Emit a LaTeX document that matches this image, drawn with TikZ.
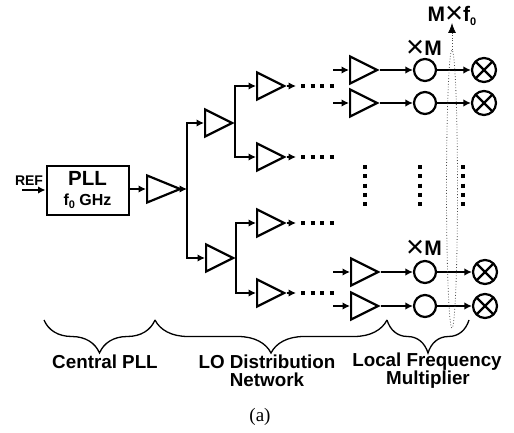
\documentclass[tikz,border=0pt]{standalone}
\usepackage{fontspec}
\setmainfont{Liberation Sans}
\newfontfamily\captionserif{Liberation Serif}
\usetikzlibrary{arrows.meta,calc,shapes.geometric,decorations.pathreplacing}
\newcommand{\subzero}{\raisebox{-0.22em}{\fontsize{11}{11}\selectfont 0}}
\newcommand{\bigtimes}{\raisebox{-0.12em}{\mdseries\fontsize{31}{31}\selectfont\texttimes}}

\begin{document}
\begin{tikzpicture}[
    x = 1pt,
    y = -1pt,
    amp/.style={
        isosceles triangle, % shape
        isosceles triangle stretches,
        minimum width = 27pt, %size
        minimum height = 27pt,
        inner sep = 0pt,
        line width = 2.2pt, %border
        line join = miter,
        draw = black,
        anchor = west
      },
    ampbig/.style={amp, minimum height = 33pt},
    mult/.style={circle, draw = black, line width = 2.2pt, minimum size = 22pt, inner sep = 0pt},
    mixer/.style={
        mult,
        minimum size = 24pt,
        path picture={
            \draw [line width = 2.2pt] (path picture bounding box.north west) -- (path picture bounding box.south east);
            \draw [line width = 2.2pt] (path picture bounding box.south west) -- (path picture bounding box.north east);
          }
      },
    wire/.style={line width = 1.5pt, -{Latex[length = 7.5pt, width = 7.5pt]}},
    dothline/.style={line width = 4pt, dash pattern = on 4pt off 5.6pt},
    curly/.style={line width = 1.3pt, decorate, decoration={brace, mirror, amplitude = 33pt}},
    label/.style={font = \bfseries\fontsize{18.8}{18.8}\selectfont, inner sep = 0pt},
    mlabel/.style={font = \bfseries\fontsize{21}{21}\selectfont, inner sep = 0pt}
  ]
  \useasboundingbox (0,0) rectangle (514,433);

  % reference and PLL
  \node [draw, line width = 2pt, minimum width = 82pt, minimum height = 49pt, inner sep = 0pt, align = center] (pll) at (87.5,190)
    {\bfseries\fontsize{20.5}{22}\selectfont PLL\\[8pt]\bfseries\fontsize{16}{18}\selectfont f\subzero{} GHz};
  \node [font = \bfseries\fontsize{14}{14}\selectfont, inner sep = 0pt] (ref) at (29,181) {REF};
  \coordinate (refin) at (22,190);
  \draw [wire] (refin) -- (pll.west |- refin);

  % amplifiers
  \node [ampbig] (amproot) at (146,189) {};
  \foreach \ampname/\ampx/\ampy in {
      ampU/204/123, ampL/205/258,
      ampUU/256/86, ampUL/256/157, ampLU/256/223, ampLL/256/293,
      ampA/349/70, ampB/349/103, ampC/350/272, ampD/350/306}
    \node [amp] (\ampname) at (\ampx,\ampy) {};

  % tree of wires
  \draw [wire] (pll.east |- amproot.west) -- (amproot.west);
  \coordinate (bus) at (187,189);
  \draw [wire] (amproot.apex) -- (bus);
  \draw [wire] (bus) |- (ampU.west);
  \draw [wire] (bus) |- (ampL.west);
  \draw [wire] (ampU.apex) |- (ampUU.west);
  \draw [wire] (ampU.apex) |- (ampUL.west);
  \draw [wire] (ampL.apex) |- (ampLU.west);
  \draw [wire] (ampL.apex) |- (ampLL.west);

  % outputs that run into the dots
  \foreach \ampname/\ampy in {ampUU/86, ampUL/157, ampLU/223, ampLL/293} {
    \coordinate (\ampname out) at (296,\ampy);
    \draw [wire] (\ampname.apex) -- (\ampname out);
    \draw [dothline] (301,\ampy) -- (335,\ampy);
  }

  % last stage
  \foreach \ampname/\multname/\mixname/\rowy/\mixx in {
      ampA/multA/mixA/70/484, ampB/multB/mixB/103/484,
      ampC/multC/mixC/272/485, ampD/multD/mixD/306/485} {
    \coordinate (\ampname in) at (333,\rowy);
    \node [mult] (\multname) at (425,\rowy) {};
    \node [mixer] (\mixname) at (\mixx,\rowy) {};
    \draw [wire] (\ampname in) -- (\ampname.west);
    \draw [wire] (\ampname.apex) -- (\multname);
    \draw [wire] (\multname) -- (\mixname);
  }

  % vertical dots
  \foreach \dotx in {365,420,463}
    \draw [dothline, dash pattern = on 4pt off 5.3pt] (\dotx,165) -- (\dotx,207);

  % dotted loop and its arrow
  \node [ellipse, draw = black!70, dotted, line width = 0.8pt, minimum width = 11pt, minimum height = 278pt, inner sep = 0pt] (loop) at (452,189) {};
  \node [mlabel] (mf) at (452,16) {M\bigtimes{}f\subzero};
  \coordinate (mfin) at (452,23);
  \draw [draw = black!70, dotted, line width = 0.8pt, arrows = {-{Latex[black, length = 10pt, width = 8pt]}}] (loop.north) -- (mfin);
  \node [mlabel] (xmtop) at (424,49) {\bigtimes{}M};
  \node [mlabel] (xmbot) at (424,249) {\bigtimes{}M};

  % braces
  \coordinate (bra) at (44,320);
  \coordinate (brb) at (155,320);
  \coordinate (brc) at (387,320);
  \coordinate (brd) at (469,320);
  \draw [curly] (bra) -- (brb);
  \draw [curly] (brb) -- (brc);
  \draw [curly] (brc) -- (brd);

  % texts
  \node [label] (central) at (105,362) {Central PLL};
  \node [label] (lo) at (267,362) {LO Distribution};
  \node [label] (net) at (267,380) {Network};
  \node [label] (local) at (427,362) {Local Frequency};
  \node [label] (multi) at (428,380) {Multiplier};
  \node [font = \captionserif\fontsize{19}{19}\selectfont, inner sep = 0pt] (cap) at (260,417) {(a)};
\end{tikzpicture}
\end{document}
